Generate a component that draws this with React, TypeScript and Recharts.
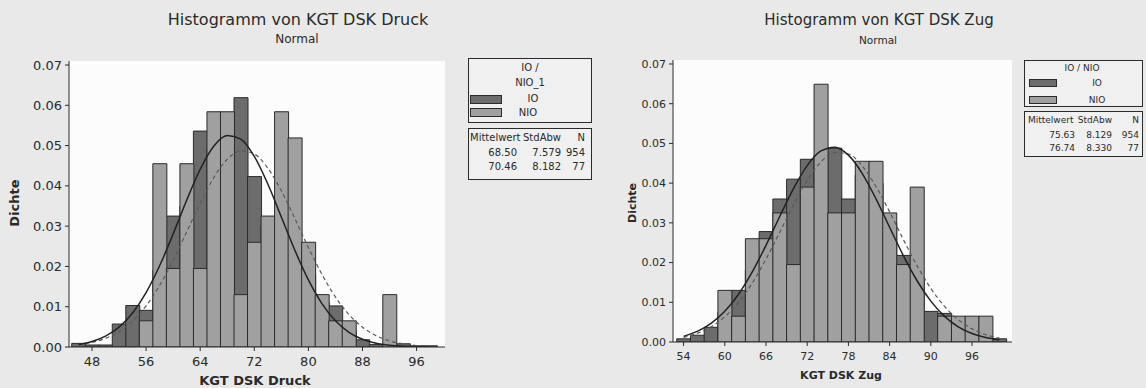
import { Bar, CartesianGrid, ComposedChart, Line, XAxis, YAxis } from "recharts";

// Klassenmitten (Klassenbreite 2)
const druckBins = [46, 48, 50, 52, 54, 56, 58, 60, 62, 64, 66, 68, 70, 72, 74, 76, 78, 80, 82, 84, 86, 88, 90, 92, 94, 96, 98];
const druckIO = [0.0009, 0.0005, 0.0005, 0.0057, 0.0103, 0.0091, 0.019, 0.0325, 0.035, 0.0536, 0.049, 0.051, 0.0619, 0.0423, 0.03, 0.031, 0.022, 0.018, 0.011, 0.0102, 0.004, 0.0018, 0.0006, 0.0005, 0.0008, 0.0003, 0.0003];
const druckNIO = [null, null, null, null, null, 0.0065, 0.0455, 0.0195, 0.0455, 0.0195, 0.0584, 0.0584, 0.013, 0.026, 0.0325, 0.0584, 0.0519, 0.026, 0.013, 0.0065, 0.0065, null, null, 0.013, null, null, null];
const druckIOFit = [0.00064, 0.00136, 0.00268, 0.00492, 0.00844, 0.01351, 0.02016, 0.02807, 0.03644, 0.04413, 0.04985, 0.05252, 0.05162, 0.04732, 0.04045, 0.03226, 0.024, 0.01665, 0.01078, 0.0065, 0.00366, 0.00192, 0.00094, 0.00043, 0.00018, 0.00007, 0.00003];
const druckNIOFit = [0.00056, 0.00113, 0.00214, 0.00383, 0.00645, 0.01023, 0.01529, 0.02154, 0.02857, 0.0357, 0.04203, 0.04661, 0.04868, 0.0479, 0.0444, 0.03877, 0.03189, 0.02471, 0.01804, 0.0124, 0.00803, 0.0049, 0.00282, 0.00152, 0.00078, 0.00037, 0.00017];
const druckTicks = [48, 56, 64, 72, 80, 88, 96];
const druckStats = [
  ["68.50", "7.579", "954"],
  ["70.46", "8.182", "77"],
];

const zugBins = [54, 56, 58, 60, 62, 64, 66, 68, 70, 72, 74, 76, 78, 80, 82, 84, 86, 88, 90, 92, 94, 96, 98, 100];
const zugIO = [0.0008, 0.0017, 0.0037, 0.0075, 0.013, 0.018, 0.0278, 0.036, 0.041, 0.046, 0.047, 0.0488, 0.036, 0.042, 0.04, 0.03, 0.0218, 0.016, 0.0077, 0.0072, 0.004, 0.002, 0.001, 0.0008];
const zugNIO = [null, null, null, 0.013, 0.0065, 0.026, 0.026, 0.0325, 0.0195, 0.039, 0.0649, 0.0325, 0.0325, 0.0455, 0.0455, 0.0325, 0.0195, 0.039, null, 0.0065, 0.0065, 0.0065, 0.0065, null];
const zugIOFit = [0.00142, 0.00266, 0.00467, 0.00773, 0.01203, 0.01764, 0.02433, 0.03159, 0.03862, 0.04442, 0.0481, 0.04903, 0.04704, 0.04248, 0.03611, 0.02889, 0.02175, 0.01542, 0.01029, 0.00646, 0.00382, 0.00213, 0.00111, 0.00055];
const zugNIOFit = [0.00115, 0.00216, 0.00381, 0.00636, 0.01001, 0.01487, 0.02086, 0.02762, 0.03452, 0.04073, 0.04537, 0.0477, 0.04734, 0.04436, 0.03923, 0.03276, 0.02582, 0.01921, 0.01349, 0.00895, 0.0056, 0.00331, 0.00184, 0.00097];
const zugTicks = [54, 60, 66, 72, 78, 84, 90, 96];
const zugStats = [
  ["75.63", "8.129", "954"],
  ["76.74", "8.330", "77"],
];

const dichteTicks = [0, 0.01, 0.02, 0.03, 0.04, 0.05, 0.06, 0.07];

const FONT = "'DejaVu Sans', Verdana, sans-serif";
const INK = "#2a2a2a";
const IO_FILL = "#6c6c6c";
const NIO_FILL = "#a0a0a0";

function toRows(bins: number[], io: number[], nio: (number | null)[], ioFit: number[], nioFit: number[]) {
  return bins.map((x, i) => ({ x, io: io[i], nio: nio[i], ioFit: ioFit[i], nioFit: nioFit[i] }));
}

function Txt({ x, y, size, bold, align = "center", rotate, children }: any) {
  const tx = align === "center" ? "-50%" : align === "right" ? "-100%" : "0";
  return (
    <div
      style={{
        position: "absolute",
        left: x,
        top: y,
        transform: `translate(${tx}, -50%)${rotate ? ` rotate(${rotate}deg)` : ""}`,
        fontSize: size,
        fontWeight: bold ? 700 : 400,
        whiteSpace: "nowrap",
        lineHeight: 1,
        color: INK,
      }}
    >
      {children}
    </div>
  );
}

function Box({ left, top, width, height }: any) {
  return (
    <div
      style={{
        position: "absolute",
        left,
        top,
        width,
        height,
        boxSizing: "border-box",
        border: `1px solid ${INK}`,
        background: "#f0f0f0",
      }}
    />
  );
}

function Swatch({ left, top, width, height, fill }: any) {
  return (
    <div
      style={{
        position: "absolute",
        left,
        top,
        width,
        height,
        boxSizing: "border-box",
        border: `1px solid ${INK}`,
        background: fill,
      }}
    />
  );
}

function Histogramm({ rows, width, height, margin, xDomain, xTicks, yWidth, font, tickGap }: any) {
  const tickStyle = { fill: INK, fontSize: font, fontFamily: FONT };
  return (
    <ComposedChart width={width} height={height} data={rows} margin={margin} barCategoryGap={0} barGap={0}>
      <CartesianGrid fill="#fcfcfc" horizontal={false} vertical={false} />
      <XAxis
        dataKey="x"
        type="number"
        domain={xDomain}
        ticks={xTicks}
        interval={0}
        allowDataOverflow
        height={30}
        tickSize={4}
        tickMargin={tickGap}
        stroke={INK}
        tick={tickStyle}
      />
      <XAxis xAxisId="b" dataKey="x" type="number" domain={xDomain} allowDataOverflow hide />
      <XAxis
        xAxisId="top"
        orientation="top"
        dataKey="x"
        type="number"
        domain={xDomain}
        allowDataOverflow
        height={0}
        tick={false}
        tickLine={false}
        stroke={INK}
      />
      <YAxis
        domain={[0, 0.071]}
        ticks={dichteTicks}
        interval={0}
        allowDataOverflow
        width={yWidth}
        tickSize={4}
        tickMargin={3}
        tickFormatter={(v: number) => v.toFixed(2)}
        stroke={INK}
        tick={tickStyle}
      />
      <YAxis yAxisId="r" orientation="right" width={0} domain={[0, 1]} tick={false} tickLine={false} stroke={INK} />
      <Bar dataKey="io" fill={IO_FILL} stroke={INK} strokeWidth={1} isAnimationActive={false} />
      <Bar dataKey="nio" xAxisId="b" fill={NIO_FILL} stroke={INK} strokeWidth={1} isAnimationActive={false} />
      <Line dataKey="nioFit" type="monotone" stroke="#5a5a5a" strokeWidth={1.2} strokeDasharray="4 3" dot={false} isAnimationActive={false} />
      <Line dataKey="ioFit" type="monotone" stroke="#222" strokeWidth={1.5} dot={false} isAnimationActive={false} />
    </ComposedChart>
  );
}

export default function App() {
  const druckRows = toRows(druckBins, druckIO, druckNIO, druckIOFit, druckNIOFit);
  const zugRows = toRows(zugBins, zugIO, zugNIO, zugIOFit, zugNIOFit);

  return (
    <div
      style={{
        position: "absolute",
        left: 0,
        top: 0,
        width: 1146,
        height: 388,
        background: "#e9e9e9",
        fontFamily: FONT,
        overflow: "hidden",
      }}
    >
      {/* linkes Histogramm */}
      <div style={{ position: "absolute", left: 0, top: 0 }}>
        <Histogramm
          rows={druckRows}
          width={460}
          height={388}
          margin={{ top: 61, right: 15, bottom: 11, left: 9 }}
          xDomain={[44.6, 100.2]}
          xTicks={druckTicks}
          yWidth={60}
          font={13}
          tickGap={6}
        />
      </div>
      <Txt x={298} y={20} size={16}>Histogramm von KGT DSK Druck</Txt>
      <Txt x={297} y={39} size={12}>Normal</Txt>
      <Txt x={14} y={203} size={13} bold rotate={-90}>Dichte</Txt>
      <Txt x={255} y={380} size={13} bold>KGT DSK Druck</Txt>

      <Box left={468} top={58} width={124} height={65} />
      <Txt x={530} y={68} size={10}>IO /</Txt>
      <Txt x={530} y={83} size={10}>NIO_1</Txt>
      <Swatch left={470} top={95} width={32} height={9} fill={IO_FILL} />
      <Txt x={533} y={99} size={10}>IO</Txt>
      <Swatch left={470} top={108} width={32} height={9} fill={NIO_FILL} />
      <Txt x={528} y={113} size={10}>NIO</Txt>

      <Box left={468} top={128} width={124} height={52} />
      <Txt x={470} y={138} size={10} align="left">Mittelwert</Txt>
      <Txt x={561} y={138} size={10} align="right">StdAbw</Txt>
      <Txt x={585} y={138} size={10} align="right">N</Txt>
      {druckStats.map((r, i) => (
        <div key={i}>
          <Txt x={517} y={153 + i * 14} size={10} align="right">{r[0]}</Txt>
          <Txt x={561} y={153 + i * 14} size={10} align="right">{r[1]}</Txt>
          <Txt x={585} y={153 + i * 14} size={10} align="right">{r[2]}</Txt>
        </div>
      ))}

      {/* rechtes Histogramm */}
      <div style={{ position: "absolute", left: 640, top: 0 }}>
        <Histogramm
          rows={zugRows}
          width={506}
          height={388}
          margin={{ top: 60, right: 134, bottom: 16, left: 3 }}
          xDomain={[52.46, 101.82]}
          xTicks={zugTicks}
          yWidth={30}
          font={11}
          tickGap={6}
        />
      </div>
      <Txt x={879} y={20} size={15}>Histogramm von KGT DSK Zug</Txt>
      <Txt x={878} y={40} size={10.5}>Normal</Txt>
      <Txt x={632} y={203} size={11} bold rotate={-90}>Dichte</Txt>
      <Txt x={841} y={375} size={11} bold>KGT DSK Zug</Txt>

      <Box left={1024} top={60} width={119} height={47} />
      <Txt x={1082} y={68} size={9}>IO / NIO</Txt>
      <Swatch left={1029} top={79} width={28} height={8} fill={IO_FILL} />
      <Txt x={1097} y={83} size={9}>IO</Txt>
      <Swatch left={1029} top={96} width={28} height={8} fill={NIO_FILL} />
      <Txt x={1097} y={100} size={9}>NIO</Txt>

      <Box left={1024} top={111} width={119} height={46} />
      <Txt x={1028} y={120} size={9} align="left">Mittelwert</Txt>
      <Txt x={1112} y={120} size={9} align="right">StdAbw</Txt>
      <Txt x={1139} y={120} size={9} align="right">N</Txt>
      {zugStats.map((r, i) => (
        <div key={i}>
          <Txt x={1075} y={135 + i * 13} size={9} align="right">{r[0]}</Txt>
          <Txt x={1112} y={135 + i * 13} size={9} align="right">{r[1]}</Txt>
          <Txt x={1139} y={135 + i * 13} size={9} align="right">{r[2]}</Txt>
        </div>
      ))}
    </div>
  );
}
